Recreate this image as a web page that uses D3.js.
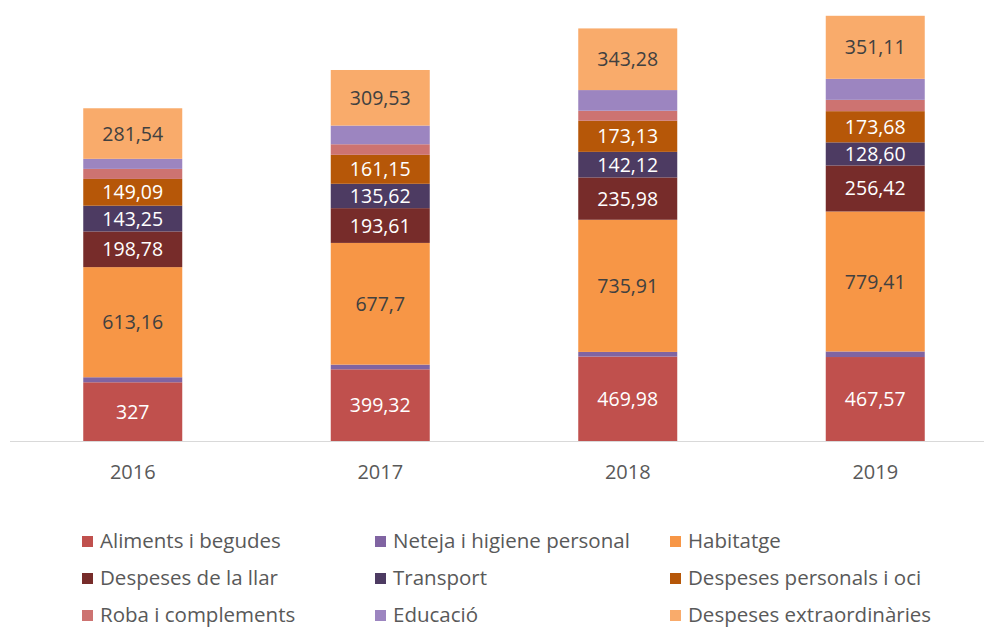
<!DOCTYPE html>
<html><head><meta charset="utf-8">
<script src="https://cdn.jsdelivr.net/npm/d3@7"></script>
<style>body{margin:0;background:#fff;}svg{display:block;font-family:"Open Sans",sans-serif;}</style>
</head><body><svg id="c" width="984" height="628"></svg>
<script>
const years = ["2016","2017","2018","2019"];
const seriesNames = ["Aliments i begudes","Neteja i higiene personal","Habitatge","Despeses de la llar","Transport","Despeses personals i oci","Roba i complements","Educació","Despeses extraordinàries"];
const aliments = [327, 399.32, 469.98, 467.57];
const neteja = [28, 26, 26, 31];
const habitatge = [613.16, 677.7, 735.91, 779.41];
const llar = [198.78, 193.61, 235.98, 256.42];
const transport = [143.25, 135.62, 142.12, 128.60];
const personals = [149.09, 161.15, 173.13, 173.68];
const roba = [56, 59, 56, 63];
const educacio = [56, 104, 115, 117];
const extra = [281.54, 309.53, 343.28, 351.11];
const labelText = [
  ["327","399,32","469,98","467,57"],
  null,
  ["613,16","677,7","735,91","779,41"],
  ["198,78","193,61","235,98","256,42"],
  ["143,25","135,62","142,12","128,60"],
  ["149,09","161,15","173,13","173,68"],
  null,
  null,
  ["281,54","309,53","343,28","351,11"]
];
const colors = ["#C0504D","#8064A2","#F79646","#772C2A","#4D3B62","#B65708","#CD7371","#9C85C0","#F9AB6B"];
const labelColors = ["#fff",null,"#404040","#fff","#fff","#fff",null,null,"#404040"];

const allSeries = [aliments, neteja, habitatge, llar, transport, personals, roba, educacio, extra];
const rows = years.map((y,i)=>{const o={year:y}; seriesNames.forEach((n,k)=>o[n]=allSeries[k][i]); return o;});
const stack = d3.stack().keys(seriesNames)(rows);

const svg = d3.select("#c");
const x = d3.scaleBand().domain(years).range([9,999]).paddingInner(0.6).paddingOuter(0.3);
const y = d3.scaleLinear().domain([0,2400]).range([441,10]);

svg.append("line").attr("x1",10).attr("x2",984).attr("y1",441.5).attr("y2",441.5).attr("stroke","#d9d9d9").attr("stroke-width",1);

const g = svg.append("g");
stack.forEach((layer,k)=>{
  g.selectAll(null).data(layer).enter().append("rect")
    .attr("x",d=>x(d.data.year)).attr("width",x.bandwidth())
    .attr("y",d=>y(d[1])).attr("height",d=>y(d[0])-y(d[1]))
    .attr("fill",colors[k]);
});
stack.forEach((layer,k)=>{
  if(!labelText[k]) return;
  g.selectAll(null).data(layer).enter().append("text")
    .attr("x",d=>x(d.data.year)+x.bandwidth()/2)
    .attr("y",d=>(y(d[0])+y(d[1]))/2)
    .attr("dy","0.36em").attr("text-anchor","middle")
    .attr("font-size",19.5).attr("fill",labelColors[k])
    .text((d,i)=>labelText[k][i]);
});

svg.append("g").selectAll("text").data(years).enter().append("text")
  .attr("x",d=>x(d)+x.bandwidth()/2).attr("y",472).attr("dy","0.36em")
  .attr("text-anchor","middle").attr("font-size",20).attr("fill","#595959").text(d=>d);

const colX = [82,375,670], rowY = [541,578,615];
const leg = svg.append("g");
seriesNames.forEach((n,k)=>{
  const cx = colX[k%3], cy = rowY[Math.floor(k/3)];
  leg.append("rect").attr("x",cx).attr("y",cy-5).attr("width",11).attr("height",11).attr("fill",colors[k]);
  leg.append("text").attr("x",cx+18).attr("y",cy).attr("dy","0.36em").attr("font-size",20.5).attr("fill","#595959").text(n);
});
</script></body></html>
